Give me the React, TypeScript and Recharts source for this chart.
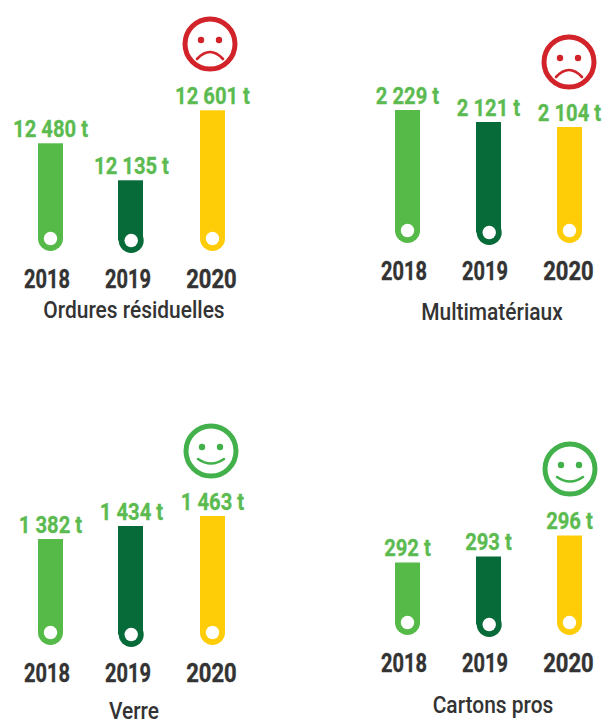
import React from "react";
import { BarChart, Bar, XAxis, YAxis, LabelList } from "recharts";

const years = ["2018", "2019", "2020"];
const barColors = ["#55BA47", "#066B38", "#FFCC08"];
const INK = "#333333";
const LABEL_GREEN = "#5CBB50";
const FONT = "Roboto, sans-serif";

// printed tonnages
const ordresLabels = ["12 480 t", "12 135 t", "12 601 t"];
const multiLabels = ["2 229 t", "2 121 t", "2 104 t"];
const verreLabels = ["1 382 t", "1 434 t", "1 463 t"];
const cartonsLabels = ["292 t", "293 t", "296 t"];

// bar extents (the bars are not to scale with the tonnages)
const ordresLevels = [[0, 107.7], [-2, 70.7], [0, 140.7]];
const multiLevels = [[0, 133], [-2, 121], [0, 116]];
const verreLevels = [[0, 106], [-2, 119], [0, 129]];
const cartonsLevels = [[0, 72.5], [-2, 78.5], [0, 99.5]];

const tickShift = [-3.5, -3.5, -1];

// squeeze the glyphs, the original face is much narrower than Roboto
const squeeze = (k: number): React.CSSProperties => ({
  transform: `scaleX(${k})`,
  transformBox: "fill-box",
  transformOrigin: "center",
});

const PillBar = (props: any) => {
  const { y, width, height, index, middleShift } = props;
  const x = props.x + (index === 1 ? middleShift : 0);
  const r = width / 2;
  const capY = y + height - r;
  const capShift = index === 1 ? 0.7 : 0;
  return (
    <g>
      <rect x={x} y={y} width={width} height={height - r} fill={barColors[index]} />
      <circle cx={x + r + capShift} cy={capY} r={r} fill={barColors[index]} />
      <circle cx={x + r + capShift} cy={capY} r={6.7} fill="#fff" />
    </g>
  );
};

const YearTick = (props: any) => {
  const { x, y, payload, index } = props;
  return (
    <text x={x + tickShift[index]} y={y + 24} textAnchor="middle" fontFamily={FONT} fontWeight={700} fontSize={25} fill={INK} stroke={INK} strokeWidth={0.4} style={squeeze(index === 2 ? 0.88 : 0.8)}>
      {payload.value}
    </text>
  );
};

const ValueLabel = (props: any) => {
  const { x, y, width, value } = props;
  return (
    <text x={x + width / 2} y={y - 6} textAnchor="middle" fontFamily={FONT} fontWeight={700} fontSize={23} fill={LABEL_GREEN} stroke={LABEL_GREEN} strokeWidth={0.3} style={squeeze(0.88)}>
      {value}
    </text>
  );
};

const Face = ({ cx, cy, happy }: { cx: number; cy: number; happy: boolean }) => {
  const color = happy ? "#43B14B" : "#D2232A";
  return (
    <svg width={60} height={60} style={{ position: "absolute", left: cx - 30, top: cy - 30 }}>
      <circle cx={30} cy={30} r={25} fill="none" stroke={color} strokeWidth={5} />
      <circle cx={21} cy={26} r={3.2} fill={color} />
      <circle cx={39} cy={26} r={3.2} fill={color} />
      <path
        d={happy ? "M17 38 Q30 47 43 38" : "M17 45 Q30 31 43 45"}
        fill="none"
        stroke={color}
        strokeWidth={2.6}
        strokeLinecap="round"
      />
    </svg>
  );
};

const Panel = ({ left, base, levels, labels, title, titleX, titleY, faceX, faceY, happy, middleShift }: any) => {
  const rows = years.map((year, i) => ({ year, range: levels[i], label: labels[i] }));
  return (
    <>
      <div style={{ position: "absolute", left, top: base - 185 }}>
        <BarChart width={243} height={235} data={rows} margin={{ top: 30, right: 0, bottom: 0, left: 0 }} barCategoryGap={0}>
          <XAxis dataKey="year" axisLine={false} tickLine={false} height={45} tick={<YearTick />} interval={0} />
          <YAxis hide domain={[-5, 155]} allowDataOverflow />
          <Bar dataKey="range" barSize={25} shape={<PillBar middleShift={middleShift} />} isAnimationActive={false}>
            <LabelList dataKey="label" content={<ValueLabel />} />
          </Bar>
        </BarChart>
      </div>
      <Face cx={faceX} cy={faceY} happy={happy} />
      <div
        style={{
          position: "absolute",
          left: titleX - 120,
          width: 240,
          top: titleY - 17,
          lineHeight: "22px",
          textAlign: "center",
          fontFamily: FONT,
          fontWeight: 500,
          fontSize: 23,
          color: INK,
          transform: "scaleX(0.91)",
        }}
      >
        {title}
      </div>
    </>
  );
};

export default function App() {
  return (
    <div style={{ position: "absolute", left: 0, top: 0, width: 603, height: 722, background: "#fff", overflow: "hidden" }}>
      <Panel left={10} base={250.7} middleShift={-1} levels={ordresLevels} labels={ordresLabels} title="Ordures résiduelles" titleX={134} titleY={317} faceX={210} faceY={43.5} happy={false} />
      <Panel left={367} base={243} middleShift={0} levels={multiLevels} labels={multiLabels} title="Multimatériaux" titleX={492} titleY={319} faceX={569} faceY={62} happy={false} />
      <Panel left={10} base={645} middleShift={-1} levels={verreLevels} labels={verreLabels} title="Verre" titleX={134} titleY={718} faceX={211} faceY={451} happy={true} />
      <Panel left={367} base={634.5} middleShift={0} levels={cartonsLevels} labels={cartonsLabels} title="Cartons pros" titleX={492.7} titleY={712} faceX={570} faceY={468.7} happy={true} />
    </div>
  );
}
